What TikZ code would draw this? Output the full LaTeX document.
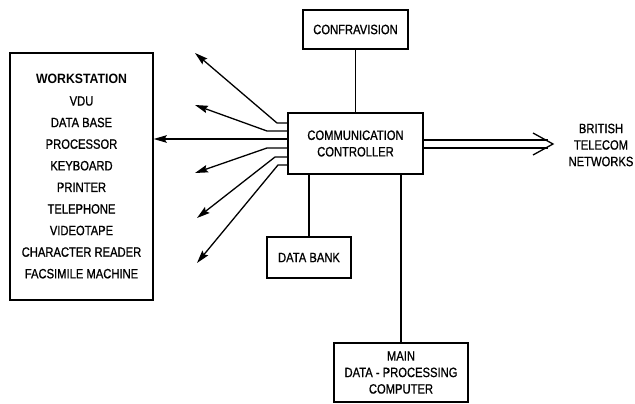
\documentclass[tikz,border=0pt]{standalone}
\usepackage{fontspec}
\setmainfont{Liberation Sans}[FakeStretch=0.83,FakeBold=0.9]
\newfontfamily\headfont{Liberation Sans}[FakeStretch=0.91]
\usetikzlibrary{arrows.meta}
\begin{document}
\begin{tikzpicture}[x=1pt,y=-1pt,
  box/.style={draw,line width=1.4pt,inner sep=0pt,align=center},
  lbl/.style={font=\fontsize{13.5}{16.5}\selectfont,align=center},
  wire/.style={line width=1.5pt},
  outarrow/.style={line width=1.3pt,-{Stealth[length=13pt,width=7.5pt,inset=2pt]}}]
\useasboundingbox (0,0) rectangle (635,404);

% boxes
\node[box,minimum width=143pt,minimum height=247pt,font=\fontsize{13.5}{21.6}\selectfont] (ws) at (81.5,176.5)
  {{\headfont\bfseries WORKSTATION}\\VDU\\DATA BASE\\PROCESSOR\\KEYBOARD\\PRINTER\\TELEPHONE\\VIDEOTAPE\\CHARACTER READER\\FACSIMILE MACHINE};
\node[box,lbl,minimum width=135pt,minimum height=61pt] (ctrl) at (355.5,143.5) {COMMUNICATION\\CONTROLLER};
\node[box,lbl,minimum width=105pt,minimum height=39pt] (conf) at (355.5,29.5) {CONFRAVISION};
\node[box,lbl,minimum width=84pt,minimum height=41pt] (db) at (309,257.5) {DATA BANK};
\node[box,lbl,minimum width=134pt,minimum height=59pt] (main) at (401,372.5) {MAIN\\DATA - PROCESSING\\COMPUTER};
\node[lbl] (bt) at (601,145) {BRITISH\\TELECOM\\NETWORKS};

% vertical links
\draw[wire] (conf.south) -- (conf.south |- ctrl.north);
\draw[wire] (db.north) -- (db.north |- ctrl.south);
\draw[wire] (ctrl.south -| main.north) -- (main.north);

% double line towards the external networks
\coordinate (tip) at (553,144);
\draw[line width=1.3pt] (ctrl.east |- 0,140) -- (548,140);
\draw[line width=1.3pt] (ctrl.east |- 0,148) -- (548,148);
\draw[line width=1.3pt] (533,133) -- (tip) -- (533,155);

% fan of outgoing links on the left side
\coordinate (t1) at (195,53);
\coordinate (t2) at (195,105);
\coordinate (t4) at (195,173);
\coordinate (t5) at (197,218);
\coordinate (t6) at (197,263);
\draw[outarrow] (ctrl.west |- 0,123) -- (277,123) -- (t1);
\draw[outarrow] (ctrl.west |- 0,131) -- (267,131) -- (t2);
\draw[outarrow] (ctrl.west |- 0,139) -- (ws.east |- 0,139);
\draw[outarrow] (ctrl.west |- 0,148) -- (267,148) -- (t4);
\draw[outarrow] (ctrl.west |- 0,157) -- (275,157) -- (t5);
\draw[outarrow] (ctrl.west |- 0,165) -- (278,165) -- (t6);
\end{tikzpicture}
\end{document}
